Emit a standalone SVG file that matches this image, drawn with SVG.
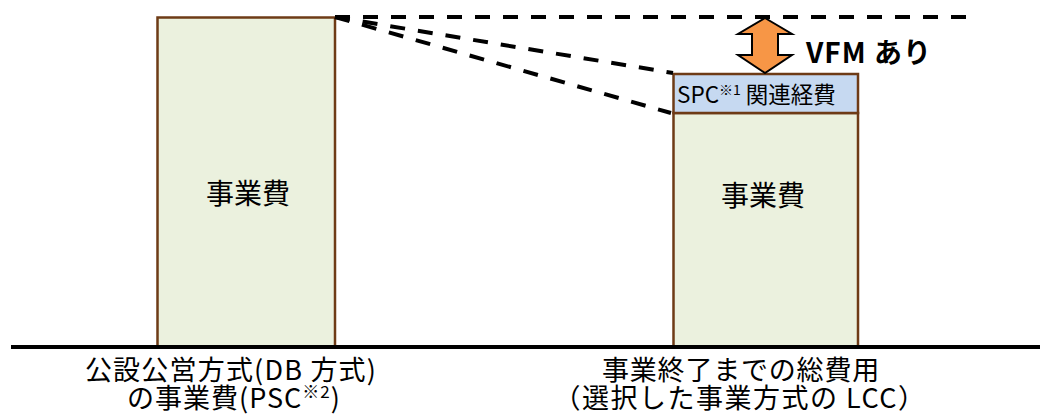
<svg xmlns="http://www.w3.org/2000/svg" width="1040" height="416" viewBox="0 0 1040 416">
<style>
.box{fill:#EBF1DE;stroke:#6E3B16;stroke-width:2.5}
.spc{fill:#C6D9F1;stroke:#6E3B16;stroke-width:2.5}
.dash{fill:none;stroke:#000;stroke-width:4;stroke-dasharray:15 13}
text{font-family:"Noto Sans CJK JP","Noto Sans",sans-serif;fill:#000}
.lbl{font-size:28px;text-anchor:middle}
.cap{font-size:27px;text-anchor:middle}
</style>
<rect width="1040" height="416" fill="#fff"/>
<g id="psc">
<rect class="box" x="157.5" y="17.5" width="177.5" height="330"/>
<text class="lbl" x="248" y="204">事業費</text>
</g>
<g id="lcc">
<rect class="box" x="673.5" y="113" width="184.5" height="234"/>
<text class="lbl" x="763" y="206">事業費</text>
</g>
<g id="spc">
<rect class="spc" x="673.5" y="74" width="184.5" height="39"/>
<text x="677" y="103" font-size="22.5">SPC<tspan font-size="14" dy="-8">※1</tspan><tspan dy="8"> 関連経費</tspan></text>
</g>
<g id="connectors">
<line class="dash" x1="335" y1="17" x2="970" y2="17"/>
<line class="dash" x1="335" y1="17" x2="673" y2="73"/>
<line class="dash" x1="335" y1="17" x2="671" y2="113"/>
<line x1="11" y1="347" x2="1040" y2="347" stroke="#000" stroke-width="4"/>
</g>
<g id="vfm">
<polygon points="765,18 792,34 778,34 778,55 792,55 765,73 738,55 752,55 752,34 738,34" fill="#F79646" stroke="#000" stroke-width="2" stroke-linejoin="miter"/>
<text x="806" y="63" font-size="28" font-weight="bold" letter-spacing="1">VFM あり</text>
</g>
<g id="labels">
<text class="cap" x="231" y="380" letter-spacing="1.2">公設公営方式(DB 方式)</text>
<text class="cap" x="234" y="408" letter-spacing="1">の事業費(PSC<tspan font-size="17" dy="-10">※2</tspan><tspan dy="10">)</tspan></text>
<text class="cap" x="741" y="380" letter-spacing="0.8">事業終了までの総費用</text>
<text class="cap" x="740" y="408" letter-spacing="1.5">（選択した事業方式の LCC）</text>
</g>
</svg>
